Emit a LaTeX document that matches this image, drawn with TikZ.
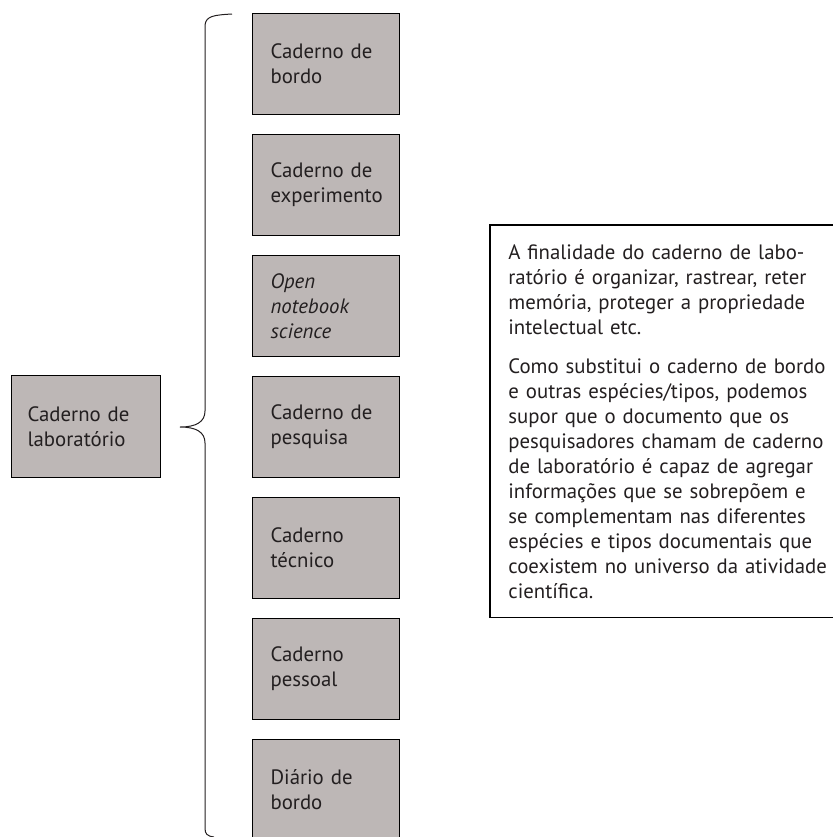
\documentclass[tikz,border=0pt]{standalone}
\usepackage{fontspec}
\setmainfont{PT Sans}
\definecolor{boxgray}{RGB}{189,183,182}
\definecolor{ink}{RGB}{35,31,32}
\newcommand\jline[1]{\hbox to\hsize{#1}}
\tikzset{
  item/.style={draw=black, line width=0.6pt, fill=boxgray, text=ink,
    anchor=north west, minimum width=73.5pt, minimum height=50.5pt,
    text width=55.5pt, inner xsep=9pt, inner ysep=0pt, align=left,
    font=\fontsize{10.4pt}{12.5pt}\selectfont},
  note/.style={anchor=north west, text=ink, text width=152.5pt,
    inner xsep=9pt, inner ysep=9.5pt,
    font=\fontsize{10.4pt}{12.5pt}\selectfont},
  brace/.style={draw=ink, line width=0.5pt}
}
\begin{document}
\begin{tikzpicture}[x=0.5pt,y=-0.5pt]
  \useasboundingbox (0,0) rectangle (833,837);
  \draw
    (11,375) node[item, minimum width=74.5pt, minimum height=51pt,
      text width=58.5pt, inner xsep=8pt] (lab) {Caderno de\\laboratório}
    (252,13) node[item] (bordo) {Caderno de\\bordo}
    (252,134) node[item] (exper) {Caderno de\\experimento}
    (252,255) node[item] (open) {\itshape Open\\notebook\\science}
    (252,376) node[item] (pesq) {Caderno de\\pesquisa}
    (252,497) node[item] (tecn) {Caderno\\técnico}
    (252,618) node[item] (pess) {Caderno\\pessoal}
    (252,739) node[item] (diario) {Diário de\\bordo};
  \draw[brace] (232,14) .. controls (214,15) and (206,16) .. (205,25)
    -- (205,411) .. controls (205,422) and (196,427) .. (180,427)
    .. controls (196,427) and (205,432) .. (205,443)
    -- (205,828) .. controls (205,834) and (207,836) .. (214,837);
  \node[note] (note) at (490,225) {%
    \jline{A finalidade do caderno de labo-}
    \jline{ratório é organizar, rastrear, reter}
    \jline{memória, proteger a propriedade}
    \hbox{intelectual etc.}
    \vskip 7pt
    \jline{Como substitui o caderno de bordo}
    \jline{e outras espécies/tipos, podemos}
    \jline{supor que o documento que os}
    \jline{pesquisadores chamam de caderno}
    \jline{de laboratório é capaz de agregar}
    \jline{informações que se sobrepõem e}
    \jline{se complementam nas diferentes}
    \jline{espécies e tipos documentais que}
    \jline{coexistem no universo da atividade}
    \hbox{científica.}};
  \coordinate (edge) at (845,0);
  \draw[line width=0.6pt] (note.north west) rectangle (note.south -| edge);
\end{tikzpicture}
\end{document}
